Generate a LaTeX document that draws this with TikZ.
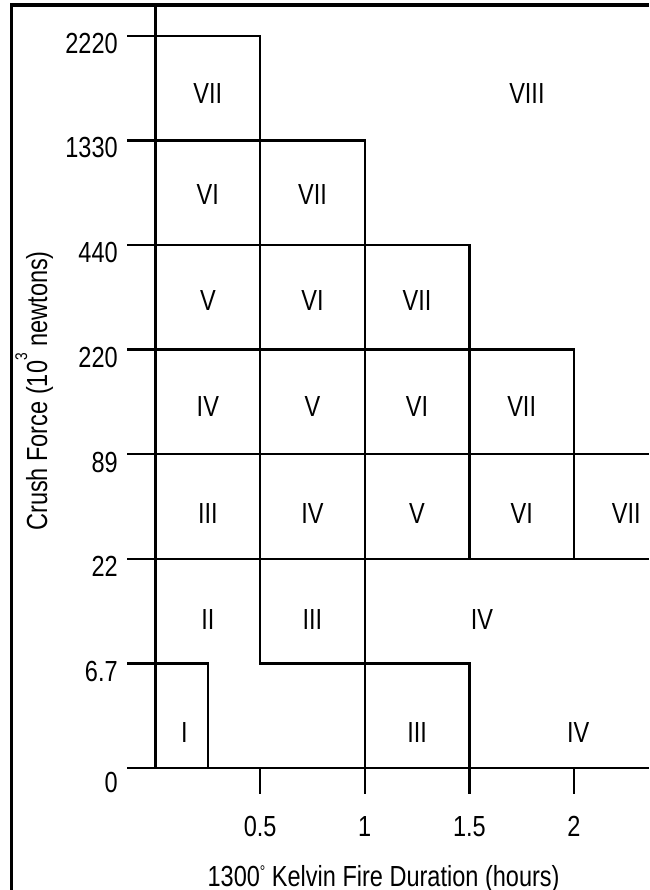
\documentclass[tikz,border=0pt]{standalone}
\usepackage{fontspec}
\setmainfont{Liberation Sans}[FakeStretch=0.81]
\usetikzlibrary{positioning}
\tikzset{%
	boundary/.style = {line width=0.85pt}, % outer frame
	zone/.style     = {line width=0.65pt}, % class borders
	region/.style   = {inner sep=0pt}, % class label
	ytick/.style    = {anchor=east, inner sep=0pt}, % force value
	xtick/.style    = {inner sep=0pt}, % hours
	title/.style    = {anchor=base, inner sep=0pt}, % axis name
}
\newcommand{\smallsup}[2]{\raisebox{#1}{\fontsize{4.6}{5}\selectfont #2}}

\begin{document}
\begin{tikzpicture}[node distance = 1cm, font=\fontsize{7.9}{9.5}\selectfont]
		\useasboundingbox (-1.487,-1.166) rectangle (4.718,7.342);
		% frame and axis
		\draw[boundary] (-1.381,-1.166) -- (-1.381,7.294) -- (4.718,7.294);
		\draw[zone] (0,7.294) -- (0,0);
		% class borders
		\draw[zone] (-0.27,7) -| (1,1) -| (3,-0.25);
		\draw[zone] (-0.27,6) -| (2,-0.25);
		\draw[zone] (-0.27,5) -| (3,2);
		\draw[zone] (-0.27,4) -| (4,2);
		\draw[zone] (-0.27,3) -- (4.718,3);
		\draw[zone] (-0.27,2) -- (4.718,2);
		\draw[zone] (-0.27,1) -| (0.5,0);
		\draw[zone] (-0.27,0) -- (4.718,0);
		\draw[zone] (1,0) -- (1,-0.25);
		\draw[zone] (4,0) -- (4,-0.25);
		% force values
		\node[ytick] (f7) at (-0.355,6.93) {2220};
		\node[ytick] (f6) at (-0.355,5.93) {1330};
		\node[ytick] (f5) at (-0.355,4.93) {440};
		\node[ytick] (f4) at (-0.355,3.92) {220};
		\node[ytick] (f3) at (-0.355,2.92) {89};
		\node[ytick] (f2) at (-0.355,1.93) {22};
		\node[ytick] (f1) at (-0.355,0.92) {6.7};
		\node[ytick] (f0) at (-0.355,-0.134) {0};
		% durations
		\node[xtick] (h1) at (1,-0.56) {0.5};
		\node[xtick, right of=h1] (h2) {1};
		\node[xtick, right of=h2] (h3) {1.5};
		\node[xtick, right of=h3] (h4) {2};
		% axis names
		\node[title] (xname) at (2.18,-1.137) {1300\smallsup{2.5pt}{°} Kelvin Fire Duration (hours)};
		\node[title, rotate=90] (yname) at (-1.037,3.604) {Crush Force (10\smallsup{5.4pt}{3} newtons)};
		% classes
		\node[region] (c6a) at (0.5,6.45) {VII};
		\node[region] (c6b) at (3.55,6.45) {VIII};
		\node[region] (c5a) at (0.5,5.48) {VI};
		\node[region, right of=c5a] (c5b) {VII};
		\node[region] (c4a) at (0.5,4.47) {V};
		\node[region, right of=c4a] (c4b) {VI};
		\node[region, right of=c4b] (c4c) {VII};
		\node[region] (c3a) at (0.5,3.46) {IV};
		\node[region, right of=c3a] (c3b) {V};
		\node[region, right of=c3b] (c3c) {VI};
		\node[region, right of=c3c] (c3d) {VII};
		\node[region] (c2a) at (0.5,2.43) {III};
		\node[region, right of=c2a] (c2b) {IV};
		\node[region, right of=c2b] (c2c) {V};
		\node[region, right of=c2c] (c2d) {VI};
		\node[region, right of=c2d] (c2e) {VII};
		\node[region] (c1a) at (0.5,1.42) {II};
		\node[region, right of=c1a] (c1b) {III};
		\node[region] (c1c) at (3.12,1.42) {IV};
		\node[region] (c0a) at (0.275,0.34) {I};
		\node[region] (c0b) at (2.5,0.34) {III};
		\node[region] (c0c) at (4.04,0.34) {IV};
\end{tikzpicture}
\end{document}
